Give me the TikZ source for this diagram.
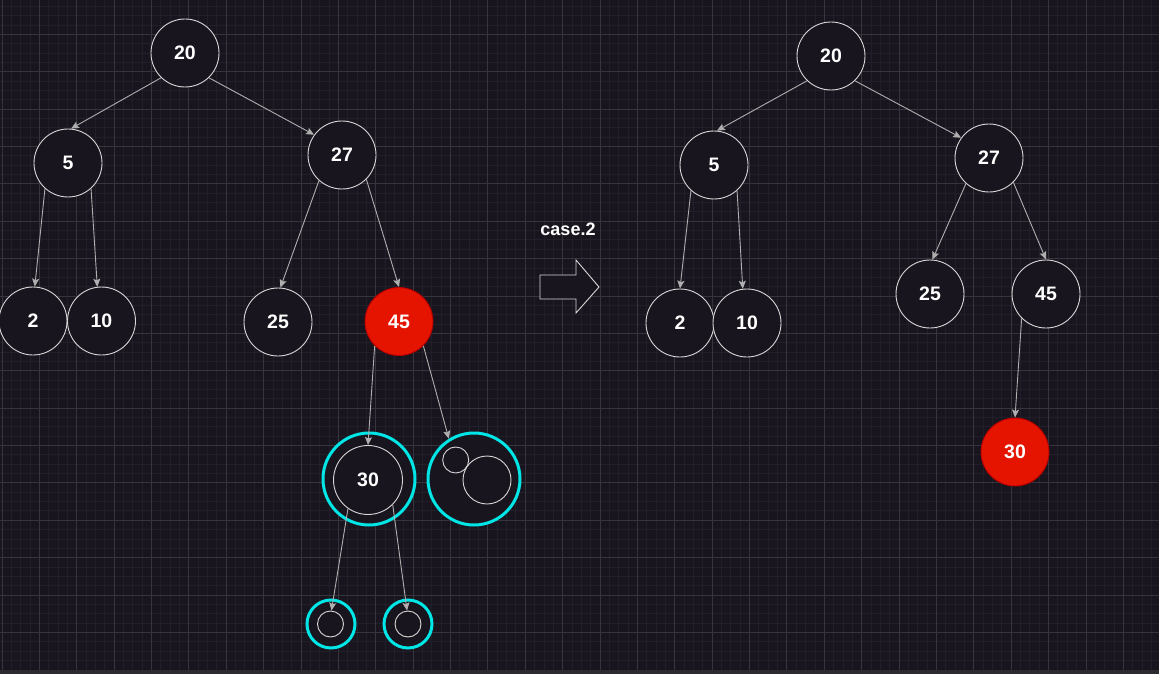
\documentclass[tikz,border=0pt]{standalone}
\usepackage{fontspec}
\setmainfont{Liberation Sans}
\usetikzlibrary{arrows.meta}
\definecolor{bgc}{RGB}{24,21,30}
\definecolor{gridminor}{RGB}{33,31,41}
\definecolor{gridmajor}{RGB}{54,52,60}
\definecolor{strokec}{RGB}{215,215,215}
\definecolor{edgec}{RGB}{175,175,175}
\definecolor{cyanc}{RGB}{0,229,229}
\definecolor{redfill}{RGB}{229,20,0}
\definecolor{redline}{RGB}{178,0,0}
\definecolor{stripc}{RGB}{44,44,48}
\tikzset{
  treenode/.style={circle, draw=strokec, line width=0.9pt, fill=bgc, minimum size=68pt, inner sep=0pt,
    text=white, font=\bfseries\fontsize{19.5}{19.5}\selectfont},
  rednode/.style={treenode, fill=redfill, draw=redline},
  ring/.style={circle, draw=cyanc, line width=3pt, fill=bgc, inner sep=0pt},
  hollow/.style={circle, draw=strokec, line width=0.9pt, fill=bgc, inner sep=0pt},
  edge/.style={draw=edgec, line width=0.9pt, -{Stealth[length=8pt,width=7pt,inset=1.5pt]}},
  label/.style={text=white, font=\bfseries\fontsize{18}{18}\selectfont},
  blockarrow/.style={draw=strokec, line width=0.9pt, fill=bgc, line join=miter}
}
\begin{document}
\begin{tikzpicture}[x=1pt,y=-1pt]
\useasboundingbox (0,0) rectangle (1159,674);
\fill[bgc] (0,0) rectangle (1159,674);
% grid
\foreach \i in {0,...,123} { \draw[gridminor, line width=0.8pt] ({1.9+9.345*\i},0) -- ({1.9+9.345*\i},670); }
\foreach \i in {1,...,71} { \draw[gridminor, line width=0.8pt] (0,{-3.1+9.345*\i}) -- (1159,{-3.1+9.345*\i}); }
\foreach \i in {0,...,30} { \draw[gridmajor, line width=0.8pt] ({1.9+37.38*\i},0) -- ({1.9+37.38*\i},670); }
\foreach \i in {1,...,17} { \draw[gridmajor, line width=0.8pt] (0,{-3.1+37.38*\i}) -- (1159,{-3.1+37.38*\i}); }
\fill[stripc] (0,670) rectangle (1159,674);

% left tree
\node[treenode] (l20) at (185,53) {20};
\node[treenode] (l5) at (68,163) {5};
\node[treenode] (l27) at (342,155) {27};
\node[treenode] (l2) at (33,321) {2};
\node[treenode] (l10) at (101.5,321) {10};
\node[treenode] (l25) at (278,322) {25};
\node[rednode] (l45) at (399,321.5) {45};
\node[ring, minimum size=92pt] (c30) at (369,479) {};
\node[treenode, minimum size=69pt] (l30) at (368,480) {30};
\node[ring, minimum size=92pt] (cR) at (474,479) {};
\node[hollow, minimum size=26pt] (sa) at (455.7,460) {};
\node[hollow, minimum size=48pt] (sb) at (487,480) {};
\node[ring, minimum size=48pt] (cL1) at (331,624) {};
\node[hollow, minimum size=26pt] (iL) at (330.5,624) {};
\node[ring, minimum size=48pt] (cL2) at (408,624) {};
\node[hollow, minimum size=26pt] (iR) at (408,624) {};

\draw[edge] (l20.226) -- (l5.85);
\draw[edge] (l20.314) -- (l27.144);
\draw[edge] (l5.228) -- (l2.87);
\draw[edge] (l5.312) -- (l10.97);
\draw[edge] (l27.228) -- (l25.86);
\draw[edge] (l27.315) -- (l45.90);
\draw[edge] (l45.225) -- (l30.90);
\draw[edge] (l45.315) -- (cR.122);
\draw[edge] (l30.235) -- (iL.86);
\draw[edge] (l30.315) -- (iR.94);

% middle
\node[label] (case) at (568,229) {case.2};
\draw[blockarrow] (540,275) -- (576,275) -- (576,260) -- (599,287) -- (576,313) -- (576,299) -- (540,299) -- cycle;

% right tree
\node[treenode] (r20) at (831,56) {20};
\node[treenode] (r5) at (714,165) {5};
\node[treenode] (r27) at (989,158) {27};
\node[treenode] (r2) at (680,323) {2};
\node[treenode] (r10) at (747,323) {10};
\node[treenode] (r25) at (930,294) {25};
\node[treenode] (r45) at (1046,294) {45};
\node[rednode] (r30) at (1015,452) {30};

\draw[edge] (r20.226) -- (r5.85);
\draw[edge] (r20.314) -- (r27.144);
\draw[edge] (r5.228) -- (r2.90);
\draw[edge] (r5.312) -- (r10.97);
\draw[edge] (r27.228) -- (r25.86);
\draw[edge] (r27.315) -- (r45.90);
\draw[edge] (r45.225) -- (r30.90);
\end{tikzpicture}
\end{document}
